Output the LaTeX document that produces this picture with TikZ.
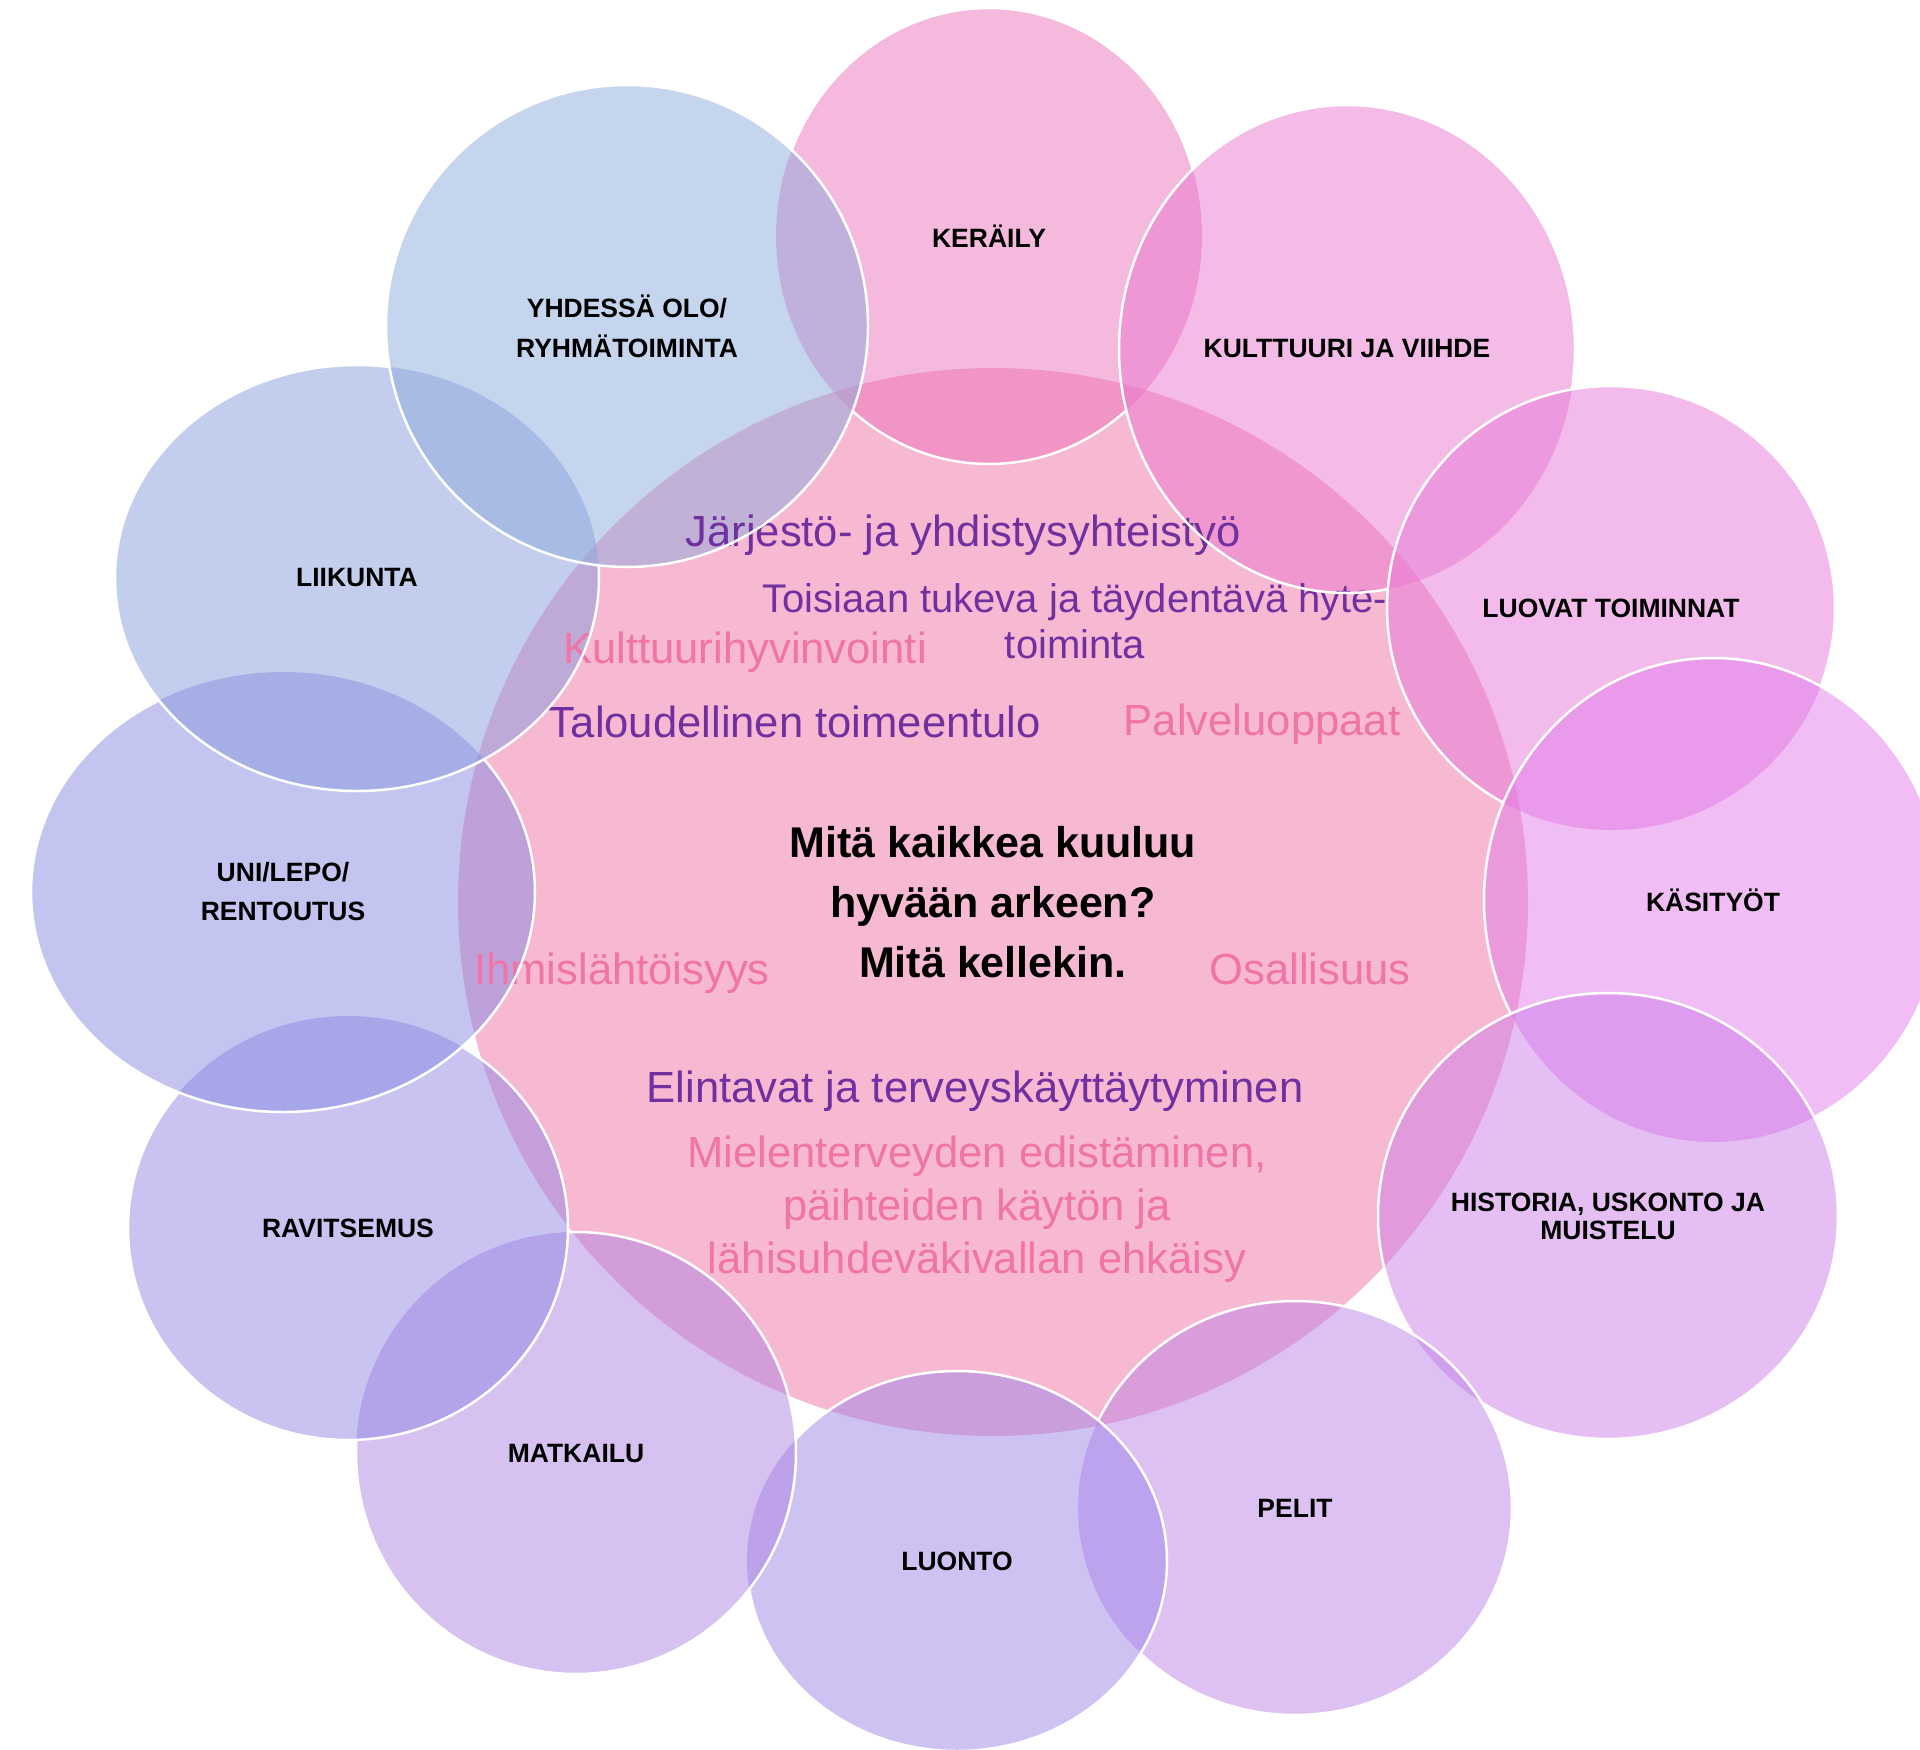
\documentclass[tikz,border=0pt]{standalone}
\usepackage{fontspec}
\setmainfont{Liberation Sans}
\usetikzlibrary{shapes.geometric}
\definecolor{keskus}{HTML}{EF71A5}
\definecolor{keraily}{HTML}{E973B9}
\definecolor{kulttuuri}{HTML}{E977CD}
\definecolor{luovat}{HTML}{E777D9}
\definecolor{kasityot}{HTML}{E17BE9}
\definecolor{historia}{HTML}{CB7DE7}
\definecolor{pelit}{HTML}{BB83E7}
\definecolor{luonto}{HTML}{9D85E7}
\definecolor{matkailu}{HTML}{AD83E1}
\definecolor{ravitsemus}{HTML}{9187E1}
\definecolor{uni}{HTML}{878BE1}
\definecolor{liikunta}{HTML}{879BDD}
\definecolor{yhdessa}{HTML}{8DABDD}
\definecolor{violetti}{HTML}{7030A0}
\definecolor{roosa}{HTML}{F074A6}

\begin{document}
\begin{tikzpicture}[x=1pt, y=-1pt]
	\tikzstyle{every node} = [inner sep=0pt, outer sep=0pt]
	\tikzstyle{bubble} = [ellipse, fill opacity=0.5, text opacity=1, align=center, font=\fontsize{26.5}{28}\selectfont\bfseries]
	\tikzstyle{theme} = [align=center, anchor=base, font=\fontsize{43.6}{53}\selectfont]
	\tikzstyle{rim} = [draw=white, line width=2.5pt]
	\useasboundingbox (0,0) rectangle (1920,1750);
	\node[bubble, fill=keskus, minimum width=1070pt, minimum height=1068pt, font=\fontsize{43}{60}\selectfont\bfseries] (keskus) at (993,902) {Mitä kaikkea kuuluu\\hyvään arkeen?\\Mitä kellekin.};
	\node[bubble, fill=keraily, minimum width=426pt, minimum height=456pt] (keraily) at (989,236) {KERÄILY};
	\node[bubble, fill=kulttuuri, minimum width=456pt, minimum height=488pt] (kulttuuri) at (1347,349) {KULTTUURI JA VIIHDE};
	\node[bubble, fill=luovat, minimum width=448pt, minimum height=444pt] (luovat) at (1611,608) {LUOVAT TOIMINNAT};
	\node[bubble, fill=kasityot, minimum width=458pt, minimum height=484pt] (kasityot) at (1713,900) {KÄSITYÖT};
	\node[bubble, fill=historia, minimum width=460pt, minimum height=446pt] (historia) at (1608,1216) {HISTORIA, USKONTO JA\\MUISTELU};
	\node[bubble, fill=pelit, minimum width=434pt, minimum height=414pt] (pelit) at (1295,1508) {PELIT};
	\node[bubble, fill=luonto, minimum width=420pt, minimum height=380pt] (luonto) at (957,1561) {LUONTO};
	\node[bubble, fill=matkailu, minimum width=440pt, minimum height=442pt] (matkailu) at (576,1453) {MATKAILU};
	\node[bubble, fill=ravitsemus, minimum width=440pt, minimum height=424pt] (ravitsemus) at (348,1228) {RAVITSEMUS};
	\node[bubble, fill=uni, minimum width=504pt, minimum height=440pt, font=\fontsize{26.5}{39}\selectfont\bfseries] (uni) at (283,892) {UNI/LEPO/\\RENTOUTUS};
	\node[bubble, fill=liikunta, minimum width=484pt, minimum height=426pt] (liikunta) at (357,578) {LIIKUNTA};
	\node[bubble, fill=yhdessa, minimum width=482pt, minimum height=482pt, font=\fontsize{26.5}{40}\selectfont\bfseries] (yhdessa) at (627,326) {YHDESSÄ OLO/\\RYHMÄTOIMINTA};
	\node[theme, text=violetti] (jarjesto) at (963,546) {Järjestö- ja yhdistysyhteistyö};
	\node[theme, text=violetti, anchor=center, font=\fontsize{40}{46}\selectfont] (hyte) at (1075,621) {Toisiaan tukeva ja täydentävä hyte-\\toiminta};
	\node[theme, text=roosa] (kulttuurihyv) at (745,663) {Kulttuurihyvinvointi};
	\node[theme, text=violetti] (talous) at (795,737) {Taloudellinen toimeentulo};
	\node[theme, text=roosa] (palvelu) at (1262,735) {Palveluoppaat};
	\node[theme, text=roosa] (ihminen) at (622,984) {Ihmislähtöisyys}; \node[theme, text=roosa] (osallisuus) at (1310,984) {Osallisuus};
	\node[theme, text=violetti] (elintavat) at (975,1102) {Elintavat ja terveyskäyttäytyminen};
	\node[theme, text=roosa, anchor=center] (mieli) at (977,1209) {Mielenterveyden edistäminen,\\päihteiden käytön ja\\lähisuhdeväkivallan ehkäisy};
	\begin{scope}[even odd rule]
		\clip (-50,-50) rectangle (1970,1800) (kulttuuri.center) ellipse [x radius=228, y radius=244] (yhdessa.center) ellipse [x radius=241, y radius=241];
		\draw[rim] (keraily.center) ellipse [x radius=213, y radius=228];
	\end{scope}
	\foreach \n/\rx/\ry/\m/\mx/\my in {kulttuuri/228/244/luovat/224/222, luovat/224/222/kasityot/229/242, kasityot/229/242/historia/230/223, historia/230/223/pelit/217/207, pelit/217/207/luonto/210/190, luonto/210/190/matkailu/220/221, matkailu/220/221/ravitsemus/220/212, ravitsemus/220/212/uni/252/220, uni/252/220/liikunta/242/213, liikunta/242/213/yhdessa/241/241}{
		\begin{scope}[even odd rule]
			\clip (-50,-50) rectangle (1970,1800) (\m.center) ellipse [x radius=\mx, y radius=\my];
			\draw[rim] (\n.center) ellipse [x radius=\rx, y radius=\ry];
		\end{scope}
	}
	\draw[rim] (yhdessa.center) ellipse [x radius=241, y radius=241];
\end{tikzpicture}
\end{document}
